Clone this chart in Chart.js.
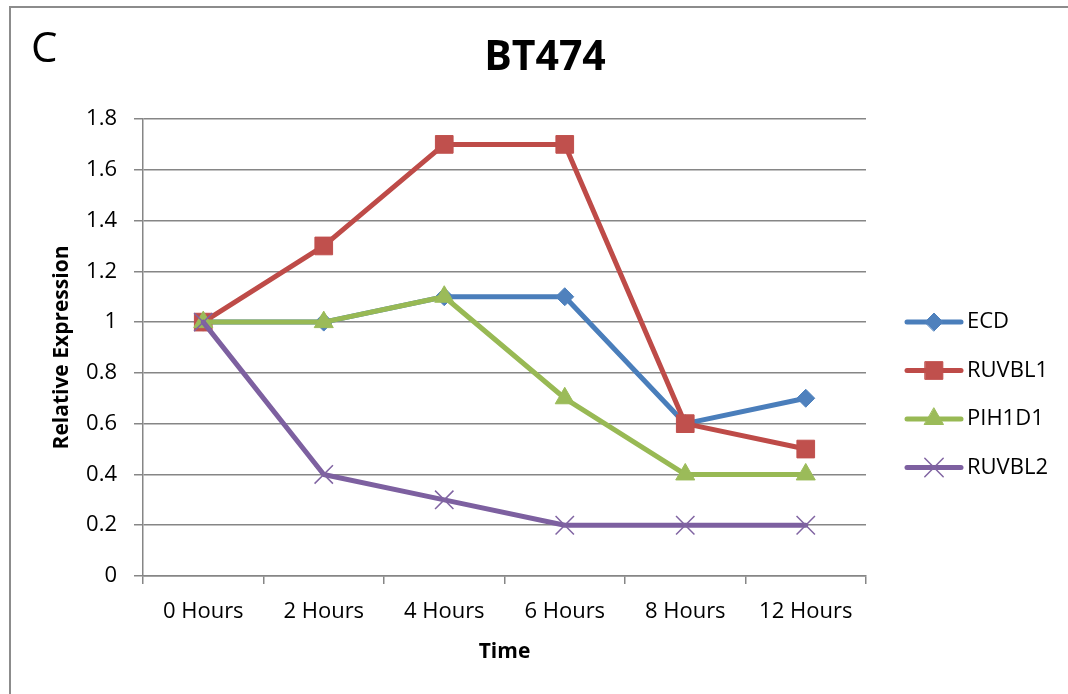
<!DOCTYPE html>
<html lang="en">
<head>
<meta charset="UTF-8">
<title>BT474</title>
<script src="https://cdn.jsdelivr.net/npm/chart.js"></script>
<style>
  html, body { margin: 0; padding: 0; background: #fff; overflow: hidden; }
  .panel { position: relative; width: 1068px; height: 694px; overflow: hidden; }
  .frame {
    position: absolute; left: 9px; top: 6px; right: -10px; bottom: -10px;
    border-left: 2px solid #8c8c8c; border-top: 2px solid #8c8c8c;
  }
  #lineChart { position: absolute; left: 0; top: 0; }
</style>
</head>
<body>
<div class="panel">
  <div class="frame"></div>
  <canvas id="lineChart" width="1068" height="694"></canvas>
</div>
<script>
const timePoints = ["0 Hours", "2 Hours", "4 Hours", "6 Hours", "8 Hours", "12 Hours"];
const ecd = [1, 1, 1.1, 1.1, 0.6, 0.7];
const ruvbl1 = [1, 1.3, 1.7, 1.7, 0.6, 0.5];
const pih1d1 = [1, 1, 1.1, 0.7, 0.4, 0.4];
const ruvbl2 = [1, 0.4, 0.3, 0.2, 0.2, 0.2];
const yTicks = [0, 0.2, 0.4, 0.6, 0.8, 1, 1.2, 1.4, 1.6, 1.8];

// line colour, marker fill, marker shape and size for each series
const series = [
  { label: "ECD", data: ecd, line: "#4a7ebb", fill: "#4f81bd", style: "rectRot", radius: 9 },
  { label: "RUVBL1", data: ruvbl1, line: "#be4b48", fill: "#c0504d", style: "rect", radius: 12.5 },
  { label: "PIH1D1", data: pih1d1, line: "#98b954", fill: "#9bbb59", style: "triangle", radius: 11 },
  { label: "RUVBL2", data: ruvbl2, line: "#7d60a0", fill: "#8064a2", style: "crossRot", radius: 13 }
];

Chart.defaults.font.family = '"Open Sans", sans-serif';
Chart.defaults.color = "#000";

const gridGrey = "#868686";

// chart title, panel letter and the legend on the right
const sideLegend = {
  id: "sideLegend",
  afterDraw(chart) {
    const ctx = chart.ctx;
    const x0 = chart.chartArea.right + 41;
    let y = chart.chartArea.top + 203;
    ctx.save();
    chart.data.datasets.forEach(ds => {
      ctx.strokeStyle = ds.borderColor;
      ctx.lineWidth = 5;
      ctx.lineCap = "round";
      ctx.beginPath();
      ctx.moveTo(x0, y);
      ctx.lineTo(x0 + 54, y);
      ctx.stroke();
      ctx.fillStyle = ds.pointBackgroundColor;
      ctx.strokeStyle = ds.pointBorderColor;
      ctx.lineWidth = ds.pointBorderWidth;
      Chart.helpers.drawPoint(ctx, {
        pointStyle: ds.pointStyle, radius: ds.pointRadius,
        borderWidth: ds.pointBorderWidth, rotation: 0
      }, x0 + 27, y);
      ctx.fillStyle = "#000";
      ctx.font = '22px "Open Sans"';
      ctx.textAlign = "left";
      ctx.textBaseline = "middle";
      ctx.fillText(ds.label, x0 + 60, y);
      y += 48.5;
    });

    ctx.fillStyle = "#000";
    ctx.textAlign = "center";
    ctx.textBaseline = "middle";
    ctx.font = 'bold 41px "Open Sans"';
    ctx.fillText("BT474", 545, 58);

    ctx.textAlign = "left";
    ctx.textBaseline = "alphabetic";
    ctx.font = '42px "Open Sans"';
    ctx.fillText("C", 31, 62);
    ctx.restore();
  }
};

new Chart(document.getElementById("lineChart"), {
  type: "line",
  data: {
    labels: timePoints,
    datasets: series.map((s, i) => ({
      label: s.label,
      data: s.data,
      borderColor: s.line,
      borderWidth: 5,
      borderJoinStyle: "round",
      borderCapStyle: "round",
      tension: 0,
      pointStyle: s.style,
      pointRadius: s.radius,
      pointHoverRadius: s.radius,
      pointBackgroundColor: s.fill,
      pointBorderColor: s.fill,
      pointBorderWidth: s.style === "crossRot" ? 1.5 : 1,
      order: series.length - i
    }))
  },
  options: {
    responsive: false,
    animation: false,
    events: [],
    layout: { padding: { top: 119, left: 45, right: 202, bottom: 28.6 } },
    plugins: {
      legend: { display: false },
      tooltip: { enabled: false },
      title: { display: false }
    },
    scales: {
      x: {
        offset: true,
        afterFit: scale => { scale.height = 89.4; },
        grid: { offset: true, drawOnChartArea: false, drawTicks: true, tickLength: 8, color: gridGrey, lineWidth: 1.5 },
        border: { color: gridGrey, width: 1.5 },
        ticks: { font: { size: 22 }, padding: 15, maxRotation: 0 },
        title: { display: true, text: "Time", font: { size: 21, weight: "bold" }, padding: { top: 16, bottom: 1 } }
      },
      y: {
        min: 0,
        max: 1.8,
        afterBuildTicks: scale => { scale.ticks = yTicks.map(v => ({ value: v })); },
        afterFit: scale => { scale.width = 98; },
        grid: { color: gridGrey, lineWidth: 1.5, tickLength: 9 },
        border: { color: gridGrey, width: 1.5 },
        ticks: { font: { size: 22 }, padding: 17, callback: v => String(v) },
        title: { display: true, text: "Relative Expression", font: { size: 21, weight: "bold" }, padding: { top: 4, bottom: 15 } }
      }
    }
  },
  plugins: [sideLegend]
});
</script>
</body>
</html>
